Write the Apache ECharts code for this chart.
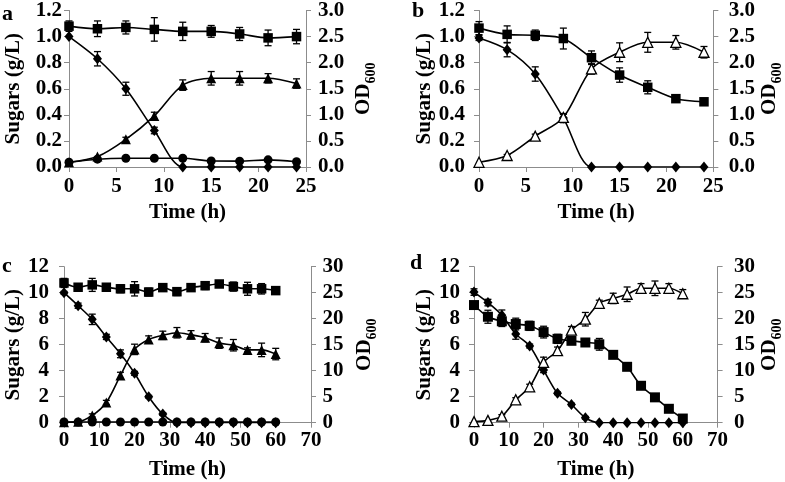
<!DOCTYPE html>
<html>
<head>
<meta charset="utf-8">
<script src="https://cdn.jsdelivr.net/npm/echarts@6/dist/echarts.min.js"></script>
<style>html,body{margin:0;padding:0;background:#fff}#c{width:785px;height:482px}</style>
</head>
<body>
<div id="c"></div>
<script>
// ---------- Data ----------
const timeAB = [0, 3, 6, 9, 12, 15, 18, 21, 24];
const timeCD = [0, 4, 8, 12, 16, 20, 24, 28, 32, 36, 40, 44, 48, 52, 56, 60];

// Panel a
const aSquare = [1.08, 1.06, 1.07, 1.055, 1.04, 1.04, 1.02, 0.99, 1.0];
const aSquareErr = [0.04, 0.06, 0.05, 0.09, 0.07, 0.045, 0.05, 0.06, 0.055];
const aDiamond = [1.0, 0.83, 0.60, 0.28, 0, 0, 0, 0, 0];
const aDiamondErr = [0, 0.055, 0.05, 0.025, 0, 0, 0, 0, 0];
const aCircle = [0.036, 0.06, 0.067, 0.067, 0.067, 0.046, 0.045, 0.055, 0.04];
const aTriangle = [0.09, 0.2, 0.53, 0.98, 1.57, 1.7, 1.7, 1.7, 1.6];
const aTriangleErr = [0, 0, 0.04, 0.07, 0.1, 0.13, 0.13, 0.09, 0.09];

// Panel b
const bSquare = [1.065, 1.017, 1.01, 0.985, 0.838, 0.705, 0.611, 0.524, 0.50];
const bSquareErr = [0.05, 0.065, 0.04, 0.08, 0.052, 0.055, 0.05, 0.012, 0.025];
const bDiamond = [0.99, 0.9, 0.713, 0.375, 0, 0, 0, 0, 0];
const bDiamondErr = [0.02, 0.055, 0.055, 0.035, 0, 0, 0, 0, 0];
const bTriangle = [0.09, 0.22, 0.59, 0.95, 1.88, 2.2, 2.39, 2.39, 2.2];
const bTriangleErr = [0, 0.02, 0.04, 0.06, 0.1, 0.18, 0.19, 0.13, 0.11];

// Panel c
const cSquare = [10.75, 10.42, 10.6, 10.42, 10.3, 10.3, 10.05, 10.39, 10.08, 10.39, 10.54, 10.67, 10.47, 10.3, 10.3, 10.16];
const cSquareErr = [0.35, 0.25, 0.5, 0.2, 0.3, 0.55, 0.3, 0.15, 0.3, 0.15, 0.3, 0.25, 0.35, 0.5, 0.4, 0.15];
const cDiamond = [10.0, 9.0, 7.95, 6.6, 5.3, 3.8, 2.0, 0.66, 0, 0, 0, 0, 0, 0, 0, 0];
const cDiamondErr = [0.1, 0.2, 0.4, 0.2, 0.3, 0.15, 0.1, 0.1, 0, 0, 0, 0, 0, 0, 0, 0];
const cCircle = [0.05, 0.05, 0.05, 0.05, 0.05, 0.05, 0.05, 0.05, 0.05, 0.05, 0.05, 0.05, 0.05, 0.05, 0.05, 0.05];
const cTriangle = [0.1, 0.2, 1.4, 3.9, 9.1, 14.1, 16.0, 16.8, 17.3, 16.9, 16.35, 15.3, 14.9, 14.0, 14.0, 13.2];
const cTriangleErr = [0, 0, 0.3, 0.4, 0.6, 1.0, 0.7, 0.8, 1.0, 0.8, 0.8, 1.0, 1.1, 0.4, 1.3, 1.1];

// Panel d
const dSquare = [9.05, 8.15, 7.8, 7.59, 7.45, 6.97, 6.45, 6.3, 6.17, 6.03, 5.22, 4.3, 2.84, 1.95, 1.07, 0.32];
const dSquareErr = [0.1, 0.5, 0.4, 0.45, 0.35, 0.45, 0.35, 0.2, 0.15, 0.45, 0.1, 0.1, 0.1, 0.05, 0.05, 0.05];
const dDiamond = [10.05, 9.24, 8.27, 6.82, 5.9, 4.05, 2.26, 1.4, 0.38, 0, 0, 0, 0, 0, 0, 0];
const dDiamondErr = [0.25, 0.25, 0.4, 0.4, 0.15, 0.2, 0.1, 0.1, 0.1, 0, 0, 0, 0, 0, 0, 0];
const dTriangle = [0.2, 0.45, 1.25, 4.4, 6.9, 11.6, 13.85, 17.8, 19.9, 22.96, 23.9, 24.7, 25.85, 25.85, 25.85, 24.8];
const dTriangleErr = [0, 0, 0.3, 0.4, 0.5, 1.0, 0.7, 0.7, 1.3, 0.6, 1.0, 1.4, 0.9, 1.4, 0.9, 0.8];

// ---------- Chart ----------
const FONT = 'Liberation Serif';
const txt = {fontFamily: FONT, fontWeight: 'bold', fontSize: 21, color: '#000'};
const AX = '#8c8c8c';

const grids = [
  {left: 69, top: 10.5, width: 237, height: 156.5},
  {left: 479, top: 10.5, width: 237, height: 156.5},
  {left: 64, top: 266.7, width: 247, height: 156},
  {left: 474, top: 266.7, width: 247, height: 156}
];

function xAx(gi, max, interval, margin, gap) {
  return {type: 'value', gridIndex: gi, min: 0, max: max, interval: interval,
    axisLine: {show: true, onZero: false, lineStyle: {color: AX, width: 1}},
    axisTick: {show: true, length: 5, lineStyle: {color: AX}},
    splitLine: {show: false},
    axisLabel: Object.assign({margin: margin}, txt),
    name: 'Time (h)', nameLocation: 'middle', nameGap: gap, nameTextStyle: txt};
}
function yAx(gi, pos, max, interval, dec, margin, name, gap) {
  const o = {type: 'value', gridIndex: gi, position: pos, min: 0, max: max, interval: interval,
    axisLine: {show: true, onZero: false, lineStyle: {color: AX, width: 1}},
    axisTick: {show: true, length: 5, lineStyle: {color: AX}},
    splitLine: {show: false},
    axisLabel: Object.assign({margin: margin, formatter: v => v.toFixed(dec)}, txt),
    name: name, nameLocation: 'middle', nameGap: gap, nameRotate: 90};
  if (pos === 'right') {
    o.nameTextStyle = {rich: {
      a: {fontFamily: FONT, fontWeight: 'bold', fontSize: 21, color: '#000', lineHeight: 25, verticalAlign: 'top'},
      b: {fontFamily: FONT, fontWeight: 'bold', fontSize: 14, color: '#000', lineHeight: 14, verticalAlign: 'bottom'}
    }};
  } else {
    o.nameTextStyle = txt;
  }
  return o;
}

const xAxes = [
  xAx(0, 25, 5, 9, 35), xAx(1, 25, 5, 9, 35),
  xAx(2, 70, 10, 7, 36), xAx(3, 70, 10, 7, 36)
];
const yAxes = [
  yAx(0, 'left', 1.2, 0.2, 1, 7, 'Sugars (g/L)', 45),
  yAx(0, 'right', 3.0, 0.5, 1, 12, '{a|OD}{b|600}', 47),
  yAx(1, 'left', 1.2, 0.2, 1, 14, 'Sugars (g/L)', 44),
  yAx(1, 'right', 3.0, 0.5, 1, 15.5, '{a|OD}{b|600}', 39),
  yAx(2, 'left', 12, 2, 0, 15, 'Sugars (g/L)', 38),
  yAx(2, 'right', 30, 5, 0, 11.5, '{a|OD}{b|600}', 43),
  yAx(3, 'left', 12, 2, 0, 14, 'Sugars (g/L)', 38),
  yAx(3, 'right', 30, 5, 0, 16.5, '{a|OD}{b|600}', 38)
];

function lineS(x, y, xi, yi, symbol, size, open) {
  return {type: 'line', xAxisIndex: xi, yAxisIndex: yi,
    data: x.map((t, i) => [t, y[i]]),
    smooth: 0.3, symbol: symbol, symbolSize: size, showSymbol: true,
    lineStyle: {color: '#000', width: 1.6},
    itemStyle: {color: open ? '#fff' : '#000', borderColor: '#000', borderWidth: open ? 1.3 : 0, opacity: 1},
    z: 3, animation: false, silent: true};
}
function errS(x, y, e, xi, yi) {
  return {type: 'custom', xAxisIndex: xi, yAxisIndex: yi, z: 2, silent: true, animation: false,
    data: x.map((t, i) => [t, y[i], e[i]]),
    encode: {x: 0, y: 1},
    renderItem: function (params, api) {
      const ev = api.value(2);
      if (!(ev > 0)) return null;
      const xv = api.value(0), yv = api.value(1);
      const p1 = api.coord([xv, yv + ev]);
      const p2 = api.coord([xv, yv - ev]);
      const w = 3.5;
      const style = {stroke: '#000', lineWidth: 1.3};
      return {type: 'group', children: [
        {type: 'line', shape: {x1: p1[0], y1: p1[1], x2: p2[0], y2: p2[1]}, style: style},
        {type: 'line', shape: {x1: p1[0] - w, y1: p1[1], x2: p1[0] + w, y2: p1[1]}, style: style},
        {type: 'line', shape: {x1: p2[0] - w, y1: p2[1], x2: p2[0] + w, y2: p2[1]}, style: style}
      ]};
    }};
}

const series = [
  // a
  errS(timeAB, aSquare, aSquareErr, 0, 0),
  errS(timeAB, aDiamond, aDiamondErr, 0, 0),
  errS(timeAB, aTriangle, aTriangleErr, 0, 1),
  lineS(timeAB, aSquare, 0, 0, 'rect', 9.5, false),
  lineS(timeAB, aDiamond, 0, 0, 'diamond', [9, 11], false),
  lineS(timeAB, aCircle, 0, 0, 'circle', 9, false),
  lineS(timeAB, aTriangle, 0, 1, 'triangle', 10, false),
  // b
  errS(timeAB, bSquare, bSquareErr, 1, 2),
  errS(timeAB, bDiamond, bDiamondErr, 1, 2),
  errS(timeAB, bTriangle, bTriangleErr, 1, 3),
  lineS(timeAB, bSquare, 1, 2, 'rect', 9.5, false),
  lineS(timeAB, bDiamond, 1, 2, 'diamond', [9, 11], false),
  lineS(timeAB, bTriangle, 1, 3, 'triangle', 10, true),
  // c
  errS(timeCD, cSquare, cSquareErr, 2, 4),
  errS(timeCD, cDiamond, cDiamondErr, 2, 4),
  errS(timeCD, cTriangle, cTriangleErr, 2, 5),
  lineS(timeCD, cSquare, 2, 4, 'rect', 9.5, false),
  lineS(timeCD, cDiamond, 2, 4, 'diamond', [9, 11], false),
  lineS(timeCD, cCircle, 2, 4, 'circle', 9, false),
  lineS(timeCD, cTriangle, 2, 5, 'triangle', 10, false),
  // d
  errS(timeCD, dSquare, dSquareErr, 3, 6),
  errS(timeCD, dDiamond, dDiamondErr, 3, 6),
  errS(timeCD, dTriangle, dTriangleErr, 3, 7),
  lineS(timeCD, dSquare, 3, 6, 'rect', 10, false),
  lineS(timeCD, dDiamond, 3, 6, 'diamond', [9, 11], false),
  lineS(timeCD, dTriangle, 3, 7, 'triangle', 10, true)
];

const letters = [['a', 2, 3], ['b', 412, 0], ['c', 2, 255], ['d', 410, 252]];

const chart = echarts.init(document.getElementById('c'), null, {renderer: 'canvas'});
chart.setOption({
  animation: false,
  backgroundColor: '#fff',
  grid: grids,
  xAxis: xAxes,
  yAxis: yAxes,
  series: series,
  graphic: letters.map(l => ({type: 'text', left: l[1], top: l[2],
    style: {text: l[0], fontFamily: FONT, fontWeight: 'bold', fontSize: 22, fill: '#000'}}))
});
</script>
</body>
</html>
